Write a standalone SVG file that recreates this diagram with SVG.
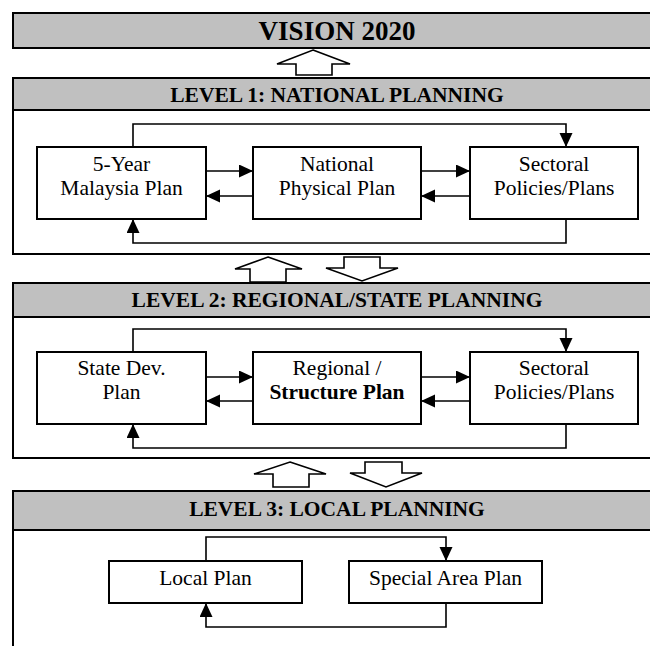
<svg xmlns="http://www.w3.org/2000/svg" width="650" height="646" viewBox="0 0 650 646">
  <defs>
    <marker id="ah" markerUnits="userSpaceOnUse" markerWidth="16" markerHeight="14" refX="14" refY="6.5" orient="auto">
      <path d="M0,0 L14,6.5 L0,13 Z" fill="#000"/>
    </marker>
    <style>
      .frame { fill: #fff; stroke: #000; stroke-width: 2; }
      .band { fill: #c0c0c0; stroke: #000; stroke-width: 2; }
      .box { fill: #fff; stroke: #000; stroke-width: 2; }
      .link { fill: none; stroke: #000; stroke-width: 1.6; marker-end: url(#ah); }
      .flow { fill: #fff; stroke: #000; stroke-width: 1.6; stroke-linejoin: miter; }
      text { font-family: "Liberation Serif", serif; fill: #000; text-anchor: middle; }
      .head { font-weight: bold; font-size: 21.5px; }
      .title { font-weight: bold; font-size: 27px; }
      .lbl { font-weight: normal; font-size: 21.5px; }
    </style>
  </defs>

  <rect width="650" height="646" fill="#fff"/>

  <!-- Vision banner -->
  <g id="vision">
    <rect class="band" x="13" y="13" width="700" height="35"/>
    <text class="title" x="337" y="40">VISION 2020</text>
  </g>

  <!-- Level frames with grey title bands -->
  <g id="level1">
    <rect class="frame" x="13" y="78" width="700" height="176"/>
    <rect class="band" x="13" y="78" width="700" height="32"/>
    <text class="head" x="337" y="102">LEVEL 1: NATIONAL PLANNING</text>
  </g>
  <g id="level2">
    <rect class="frame" x="13" y="283" width="700" height="175"/>
    <rect class="band" x="13" y="283" width="700" height="34"/>
    <text class="head" x="337" y="307">LEVEL 2: REGIONAL/STATE PLANNING</text>
  </g>
  <g id="level3">
    <rect class="frame" x="13" y="491" width="700" height="200"/>
    <rect class="band" x="13" y="491" width="700" height="39"/>
    <text class="head" x="337" y="516">LEVEL 3: LOCAL PLANNING</text>
  </g>

  <!-- Level 1 plans -->
  <g id="malaysia-plan">
    <rect class="box" x="37" y="147" width="169" height="72"/>
    <text class="lbl" x="121.5" y="171">5-Year</text>
    <text class="lbl" x="121.5" y="195">Malaysia Plan</text>
  </g>
  <g id="national-physical-plan">
    <rect class="box" x="253" y="147" width="168" height="72"/>
    <text class="lbl" x="337" y="171">National</text>
    <text class="lbl" x="337" y="195">Physical Plan</text>
  </g>
  <g id="sectoral-1">
    <rect class="box" x="470" y="147" width="168" height="72"/>
    <text class="lbl" x="554" y="171">Sectoral</text>
    <text class="lbl" x="554" y="195">Policies/Plans</text>
  </g>

  <!-- Level 2 plans -->
  <g id="state-dev-plan">
    <rect class="box" x="37" y="352" width="169" height="72"/>
    <text class="lbl" x="121.5" y="375">State Dev.</text>
    <text class="lbl" x="121.5" y="399">Plan</text>
  </g>
  <g id="structure-plan">
    <rect class="box" x="253" y="352" width="168" height="72"/>
    <text class="lbl" x="337" y="375">Regional /</text>
    <text class="lbl" x="337" y="399" style="font-weight:bold">Structure Plan</text>
  </g>
  <g id="sectoral-2">
    <rect class="box" x="470" y="352" width="168" height="72"/>
    <text class="lbl" x="554" y="375">Sectoral</text>
    <text class="lbl" x="554" y="399">Policies/Plans</text>
  </g>

  <!-- Level 3 plans -->
  <g id="local-plan">
    <rect class="box" x="109" y="561" width="193" height="42"/>
    <text class="lbl" x="205.5" y="585">Local Plan</text>
  </g>
  <g id="special-area-plan">
    <rect class="box" x="349" y="561" width="193" height="42"/>
    <text class="lbl" x="445.5" y="585">Special Area Plan</text>
  </g>

  <!-- Connectors -->
  <g id="connectors">
    <!-- level 1 -->
    <path class="link" d="M133,147 V124 H566 V147"/>
    <path class="link" d="M566,219 V243 H133 V219"/>
    <path class="link" d="M206,171 H253"/>
    <path class="link" d="M253,196 H206"/>
    <path class="link" d="M421,171 H470"/>
    <path class="link" d="M470,196 H421"/>
    <!-- level 2 -->
    <path class="link" d="M133,352 V329 H566 V352"/>
    <path class="link" d="M566,424 V448 H133 V424"/>
    <path class="link" d="M206,377 H253"/>
    <path class="link" d="M253,401 H206"/>
    <path class="link" d="M421,377 H470"/>
    <path class="link" d="M470,401 H421"/>
    <!-- level 3 -->
    <path class="link" d="M206,561 V537 H446 V561"/>
    <path class="link" d="M446,603 V627 H206 V603"/>

    <!-- hollow block arrows between levels -->
    <polygon class="flow" points="313,50 350,64 332,64 332,75 296,75 296,64 277,64"/>
    <polygon class="flow" points="268,257 302,269 286,269 286,282 250,282 250,269 235,269"/>
    <polygon class="flow" points="344,257 380,257 380,268 398,268 362,281 326,268 344,268"/>
    <polygon class="flow" points="290,462 326,474 309,474 309,487 273,487 273,474 254,474"/>
    <polygon class="flow" points="365,462 402,462 402,473 422,473 386,487 350,473 365,473"/>
  </g>
</svg>
